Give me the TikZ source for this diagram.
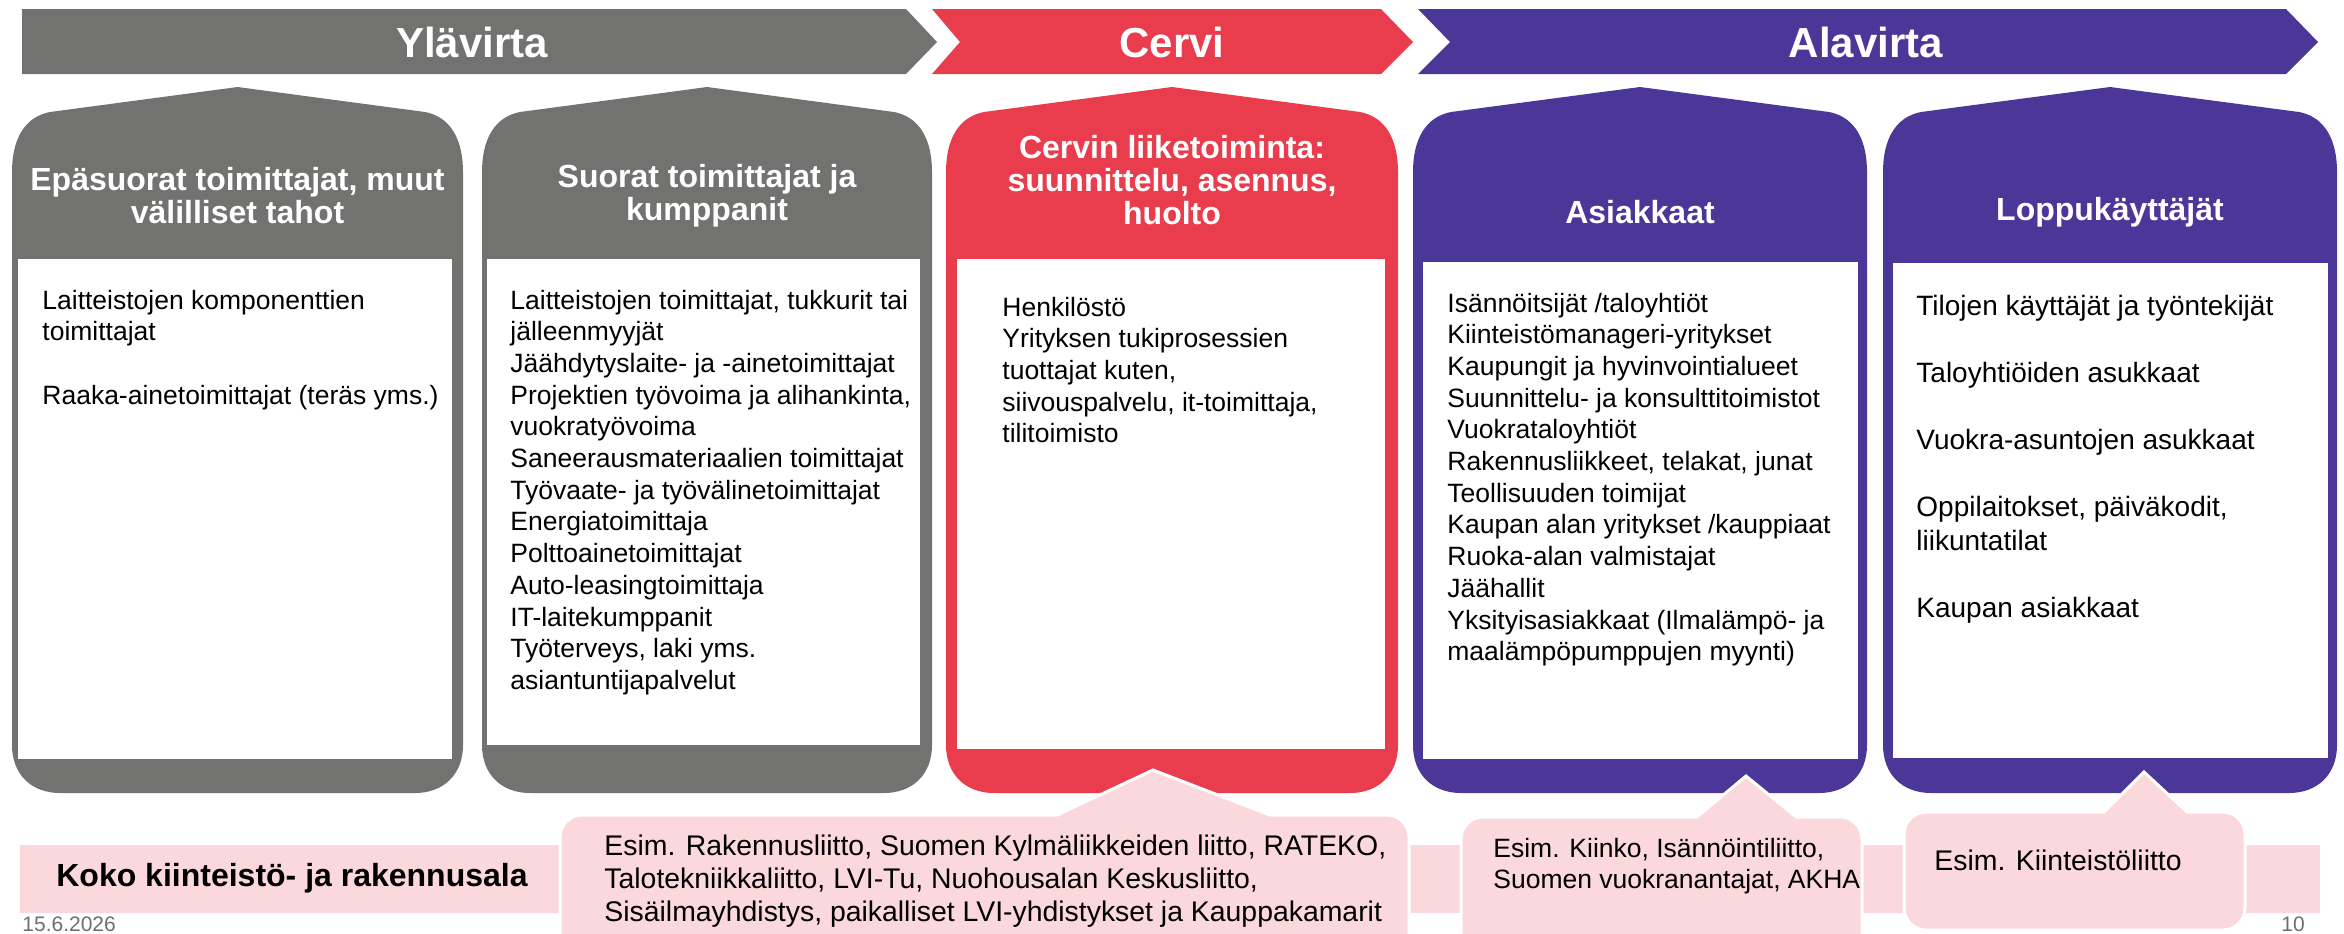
\documentclass[tikz,border=0pt]{standalone}
\usepackage{fontspec}
\setmainfont{Liberation Sans}
\definecolor{cgrey}{RGB}{114,115,113}
\definecolor{cred}{RGB}{233,60,76}
\definecolor{cpurple}{RGB}{74,55,151}
\definecolor{cpink}{RGB}{250,216,220}
\definecolor{cfoot}{RGB}{110,110,110}
\newcommand\mycard[3]{%
 \pgfmathsetmacro\cL{#2}\pgfmathsetmacro\cR{#3}%
 \pgfmathsetmacro\cP{(#2+#3)/2}%
 \pgfmathsetmacro\cLa{#2+38}\pgfmathsetmacro\cRa{#3-38}%
 \pgfmathsetmacro\cLb{#2+12}\pgfmathsetmacro\cRb{#3-12}%
 \pgfmathsetmacro\cLc{#2+48}\pgfmathsetmacro\cRc{#3-48}%
 \pgfmathsetmacro\cLd{#2+20}\pgfmathsetmacro\cRd{#3-20}%
 \fill[#1] (\cL,172) .. controls (\cL,140) and (\cLb,117) .. (\cLa,112) -- (\cP,87) -- (\cRa,112) .. controls (\cRb,117) and (\cR,140) .. (\cR,172) -- (\cR,745) .. controls (\cR,775) and (\cRd,793) .. (\cRc,793) -- (\cLc,793) .. controls (\cLd,793) and (\cL,775) .. (\cL,745) -- cycle;}
\tikzset{
 banner/.style={font=\bfseries\fontsize{21}{25}\selectfont, text=white, inner sep=0pt},
 ctitle/.style={font=\bfseries\fontsize{16}{16.5}\selectfont, text=white, align=center, inner sep=0pt},
 body/.style={anchor=base west, inner sep=0pt, font=\fontsize{13.25}{15.85}\selectfont},
 bodyb/.style={anchor=base west, inner sep=0pt, font=\fontsize{14}{16.8}\selectfont},
 pinktext/.style={anchor=base west, inner sep=0pt, font=\fontsize{14.2}{16.6}\selectfont},
 pinktextb/.style={anchor=base west, inner sep=0pt, font=\fontsize{13.25}{15.9}\selectfont},
 callout/.style={fill=cpink, draw=white, line width=1.5pt},
 foot/.style={inner sep=0pt, text=cfoot, font=\fontsize{10.5}{12}\selectfont}
}
\begin{document}
\begin{tikzpicture}[x=0.5pt,y=-0.5pt]
\useasboundingbox (0,0) rectangle (2344,933);
% banners
\fill[cgrey] (22,9) -- (906,9) -- (937,42) -- (906,74) -- (22,74) -- cycle;
\fill[cred] (932,9) -- (1381,9) -- (1413,42) -- (1381,74) -- (932,74) -- (960,42) -- cycle;
\fill[cpurple] (1418,9) -- (2286,9) -- (2318,42) -- (2286,74) -- (1418,74) -- (1450,42) -- cycle;
\node[banner] (b1) at (472,42) {Ylävirta};
\node[banner] (b2) at (1172,42) {Cervi};
\node[banner] (b3) at (1866,42) {Alavirta};
% cards
\mycard{cgrey}{12}{463}
\mycard{cgrey}{482}{932}
\mycard{cred}{946}{1398}
\mycard{cpurple}{1413}{1867}
\mycard{cpurple}{1883}{2337}
\fill[white] (18,259) rectangle (452,759);
\fill[white] (487,259) rectangle (920,745);
\fill[white] (957,259) rectangle (1385,749);
\fill[white] (1423,262) rectangle (1858,759);
\fill[white] (1893,263) rectangle (2328,758);
% card titles
\node[ctitle] (t1) at (237.5,196) {Epäsuorat toimittajat, muut\\välilliset tahot};
\node[ctitle] (t2) at (707,196) {Suorat toimittajat ja\\kumppanit};
\node[ctitle] (t3) at (1172,180) {Cervin liiketoiminta:\\suunnittelu, asennus,\\huolto};
\node[ctitle] (t4) at (1640,212) {Asiakkaat};
\node[ctitle] (t5) at (2110,212) {Loppukäyttäjät};
% card bodies
\node[body] (c1) at (42,309) {\begin{tabular}[t]{@{}l@{}}Laitteistojen komponenttien\\toimittajat\\ \\Raaka-ainetoimittajat (teräs yms.)\end{tabular}};
\node[body] (c2) at (510,309) {\begin{tabular}[t]{@{}l@{}}Laitteistojen toimittajat, tukkurit tai\\jälleenmyyjät\\Jäähdytyslaite- ja -ainetoimittajat\\Projektien työvoima ja alihankinta,\\vuokratyövoima\\Saneerausmateriaalien toimittajat\\Työvaate- ja työvälinetoimittajat\\Energiatoimittaja\\Polttoainetoimittajat\\Auto-leasingtoimittaja\\IT-laitekumppanit\\Työterveys, laki yms.\\asiantuntijapalvelut\end{tabular}};
\node[body] (c3) at (1002,316) {\begin{tabular}[t]{@{}l@{}}Henkilöstö\\Yrityksen tukiprosessien\\tuottajat kuten,\\siivouspalvelu, it-toimittaja,\\tilitoimisto\end{tabular}};
\node[body] (c4) at (1447,312) {\begin{tabular}[t]{@{}l@{}}Isännöitsijät /taloyhtiöt\\Kiinteistömanageri-yritykset\\Kaupungit ja hyvinvointialueet\\Suunnittelu- ja konsulttitoimistot\\Vuokrataloyhtiöt\\Rakennusliikkeet, telakat, junat\\Teollisuuden toimijat\\Kaupan alan yritykset /kauppiaat\\Ruoka-alan valmistajat\\Jäähallit\\Yksityisasiakkaat (Ilmalämpö- ja\\maalämpöpumppujen myynti)\end{tabular}};
\node[bodyb] (c5) at (1916,315) {\begin{tabular}[t]{@{}l@{}}Tilojen käyttäjät ja työntekijät\\ \\Taloyhtiöiden asukkaat\\ \\Vuokra-asuntojen asukkaat\\ \\Oppilaitokset, päiväkodit,\\liikuntatilat\\ \\Kaupan asiakkaat\end{tabular}};
% bottom band
\fill[cpink] (20,845) rectangle (2320,913);
\node[inner sep=0pt, font=\bfseries\fontsize{16}{19}\selectfont] (band) at (292,878) {Koko kiinteistö- ja rakennusala};
% callouts
\path[callout] (560,945) -- (560,837) .. controls (560,825) and (570,815) .. (582,815) -- (1057,815) -- (1153,770) -- (1270,815) -- (1387,815) .. controls (1399,815) and (1409,825) .. (1409,837) -- (1409,945) -- cycle;
\path[callout] (1461,945) -- (1461,839) .. controls (1461,827) and (1471,817) .. (1483,817) -- (1697,817) -- (1746,776) -- (1796,817) -- (1840,817) .. controls (1852,817) and (1862,827) .. (1862,839) -- (1862,945) -- cycle;
\path[callout] (1904,908) -- (1904,834) .. controls (1904,822) and (1914,812) .. (1926,812) -- (2104,812) -- (2144,772) -- (2187,812) -- (2223,812) .. controls (2235,812) and (2245,822) .. (2245,834) -- (2245,908) .. controls (2245,920) and (2235,930) .. (2223,930) -- (1926,930) .. controls (1914,930) and (1904,920) .. (1904,908) -- cycle;
\node[pinktext] (p1) at (604,855) {\begin{tabular}[t]{@{}l@{}}Esim. Rakennusliitto, Suomen Kylmäliikkeiden liitto, RATEKO,\\Talotekniikkaliitto, LVI-Tu, Nuohousalan Keskusliitto,\\Sisäilmayhdistys, paikalliset LVI-yhdistykset ja Kauppakamarit\end{tabular}};
\node[pinktextb] (p2) at (1493,857) {\begin{tabular}[t]{@{}l@{}}Esim. Kiinko, Isännöintiliitto,\\Suomen vuokranantajat, AKHA\end{tabular}};
\node[pinktext] (p3) at (1934,870) {Esim. Kiinteistöliitto};
% footer
\node[foot, anchor=base west] (date) at (22,931) {15.6.2026};
\node[foot, anchor=base west] (page) at (2281,931) {10};
\end{tikzpicture}
\end{document}
